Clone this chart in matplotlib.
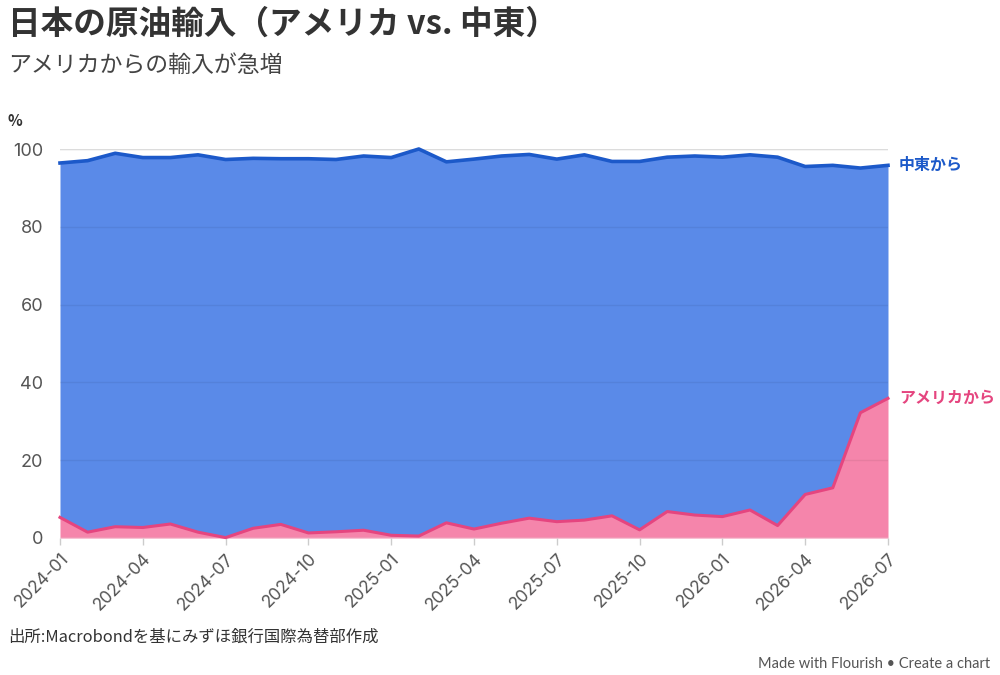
import matplotlib
matplotlib.use("Agg")
import matplotlib.pyplot as plt
import numpy as np

plt.rcParams['font.family'] = ['Noto Sans CJK JP', 'DejaVu Sans']

months = ["2024-01","2024-02","2024-03","2024-04","2024-05","2024-06","2024-07","2024-08",
          "2024-09","2024-10","2024-11","2024-12","2025-01","2025-02","2025-03","2025-04",
          "2025-05","2025-06","2025-07","2025-08","2025-09","2025-10","2025-11","2025-12",
          "2026-01","2026-02","2026-03","2026-04","2026-05","2026-06","2026-07"]
# share from USA (%)
usa = [5.3, 1.5, 2.9, 2.7, 3.6, 1.5, 0.1, 2.5, 3.5, 1.3, 1.6, 2.0, 0.7, 0.5, 3.9, 2.3,
       3.8, 5.1, 4.2, 4.6, 5.7, 2.1, 6.8, 5.9, 5.5, 7.2, 3.2, 11.2, 12.9, 32.2, 35.9]
# share from Middle East (%), stacked on top of USA
mideast = [91.1, 95.5, 96.0, 95.1, 94.2, 97.0, 97.2, 95.1, 94.0, 96.2, 95.7, 96.2, 97.1, 99.5, 92.8, 95.1,
           94.4, 93.5, 93.2, 93.9, 91.1, 94.7, 91.1, 92.3, 92.4, 91.3, 94.7, 84.3, 82.9, 62.9, 59.9]
yticks = [0, 20, 40, 60, 80, 100]
label_usa = "アメリカから"
label_me = "中東から"

blue_fill = "#5a8ae8"
blue_line = "#1c59c9"
pink_fill = "#f585ab"
pink_line = "#e5457f"

fig = plt.figure(figsize=(10, 6.75), dpi=100)
ax = fig.add_axes([0.060, 1 - 538/675, 0.828, (538-149)/675])

x = np.arange(len(months))
usa_a = np.array(usa)
total = usa_a + np.array(mideast)

ax.fill_between(x, usa_a, total, color=blue_fill, lw=0, zorder=1)
ax.fill_between(x, 0, usa_a, color=pink_fill, lw=0, zorder=1)
ax.plot(x, total, color=blue_line, lw=2.6, zorder=4, clip_on=False, solid_joinstyle='round')
ax.plot(x, usa_a, color=pink_line, lw=2.2, zorder=4, clip_on=False, solid_joinstyle='round')

ax.set_xlim(0, len(months) - 1)
ax.set_ylim(0, 100)
ax.set_yticks(yticks)
ax.set_yticklabels([str(v) for v in yticks], fontsize=13, color="#555555", family=['Inter', 'DejaVu Sans'])
for v in yticks:
    ax.axhline(v, color="#dcdcdc" if v in (0, 100) else "#000000", alpha=1 if v in (0, 100) else 0.06,
               lw=1, zorder=2 if v == 100 else 3)
ax.axhline(100, color="#e6e6e6", lw=1, zorder=0)

tick_idx = list(range(0, len(months), 3))
ax.set_xticks(tick_idx)
ax.set_xticklabels([months[i] for i in tick_idx], rotation=45, ha='right', rotation_mode='anchor',
                   fontsize=12.5, color="#555555", family=['Inter', 'DejaVu Sans'])
ax.tick_params(axis='x', length=5, color="#cccccc", width=1, pad=4)
ax.tick_params(axis='y', length=0, pad=12)
for s in ax.spines.values():
    s.set_visible(False)

ax.text(len(months) - 1 + 0.4, total[-1], label_me, color=blue_line, fontsize=11.5, fontweight='bold',
        va='center', ha='left', clip_on=False)
ax.text(len(months) - 1 + 0.4, usa_a[-1], label_usa, color=pink_line, fontsize=11.5, fontweight='bold',
        va='center', ha='left', clip_on=False)

fig.text(0.008, 1 - 24/675, "日本の原油輸入（アメリカ vs. 中東）", fontsize=23.5, fontweight='bold',
         color="#333333", va='center', ha='left')
fig.text(0.008, 1 - 65/675, "アメリカからの輸入が急増", fontsize=16.5, color="#444444",
         va='center', ha='left')
fig.text(0.008, 1 - 121/675, "%", fontsize=11, fontweight='bold', color="#333333",
         va='center', ha='left')
fig.text(0.008, 1 - 637/675, "出所:Macrobondを基にみずほ銀行国際為替部作成", fontsize=11.8, color="#333333",
         va='center', ha='left')
fig.text(0.990, 1 - 664/675, "Made with Flourish • Create a chart", fontsize=10.5, color="#555555",
         va='center', ha='right', family=['Lato', 'DejaVu Sans'])

fig.savefig("out.png", dpi=100)
